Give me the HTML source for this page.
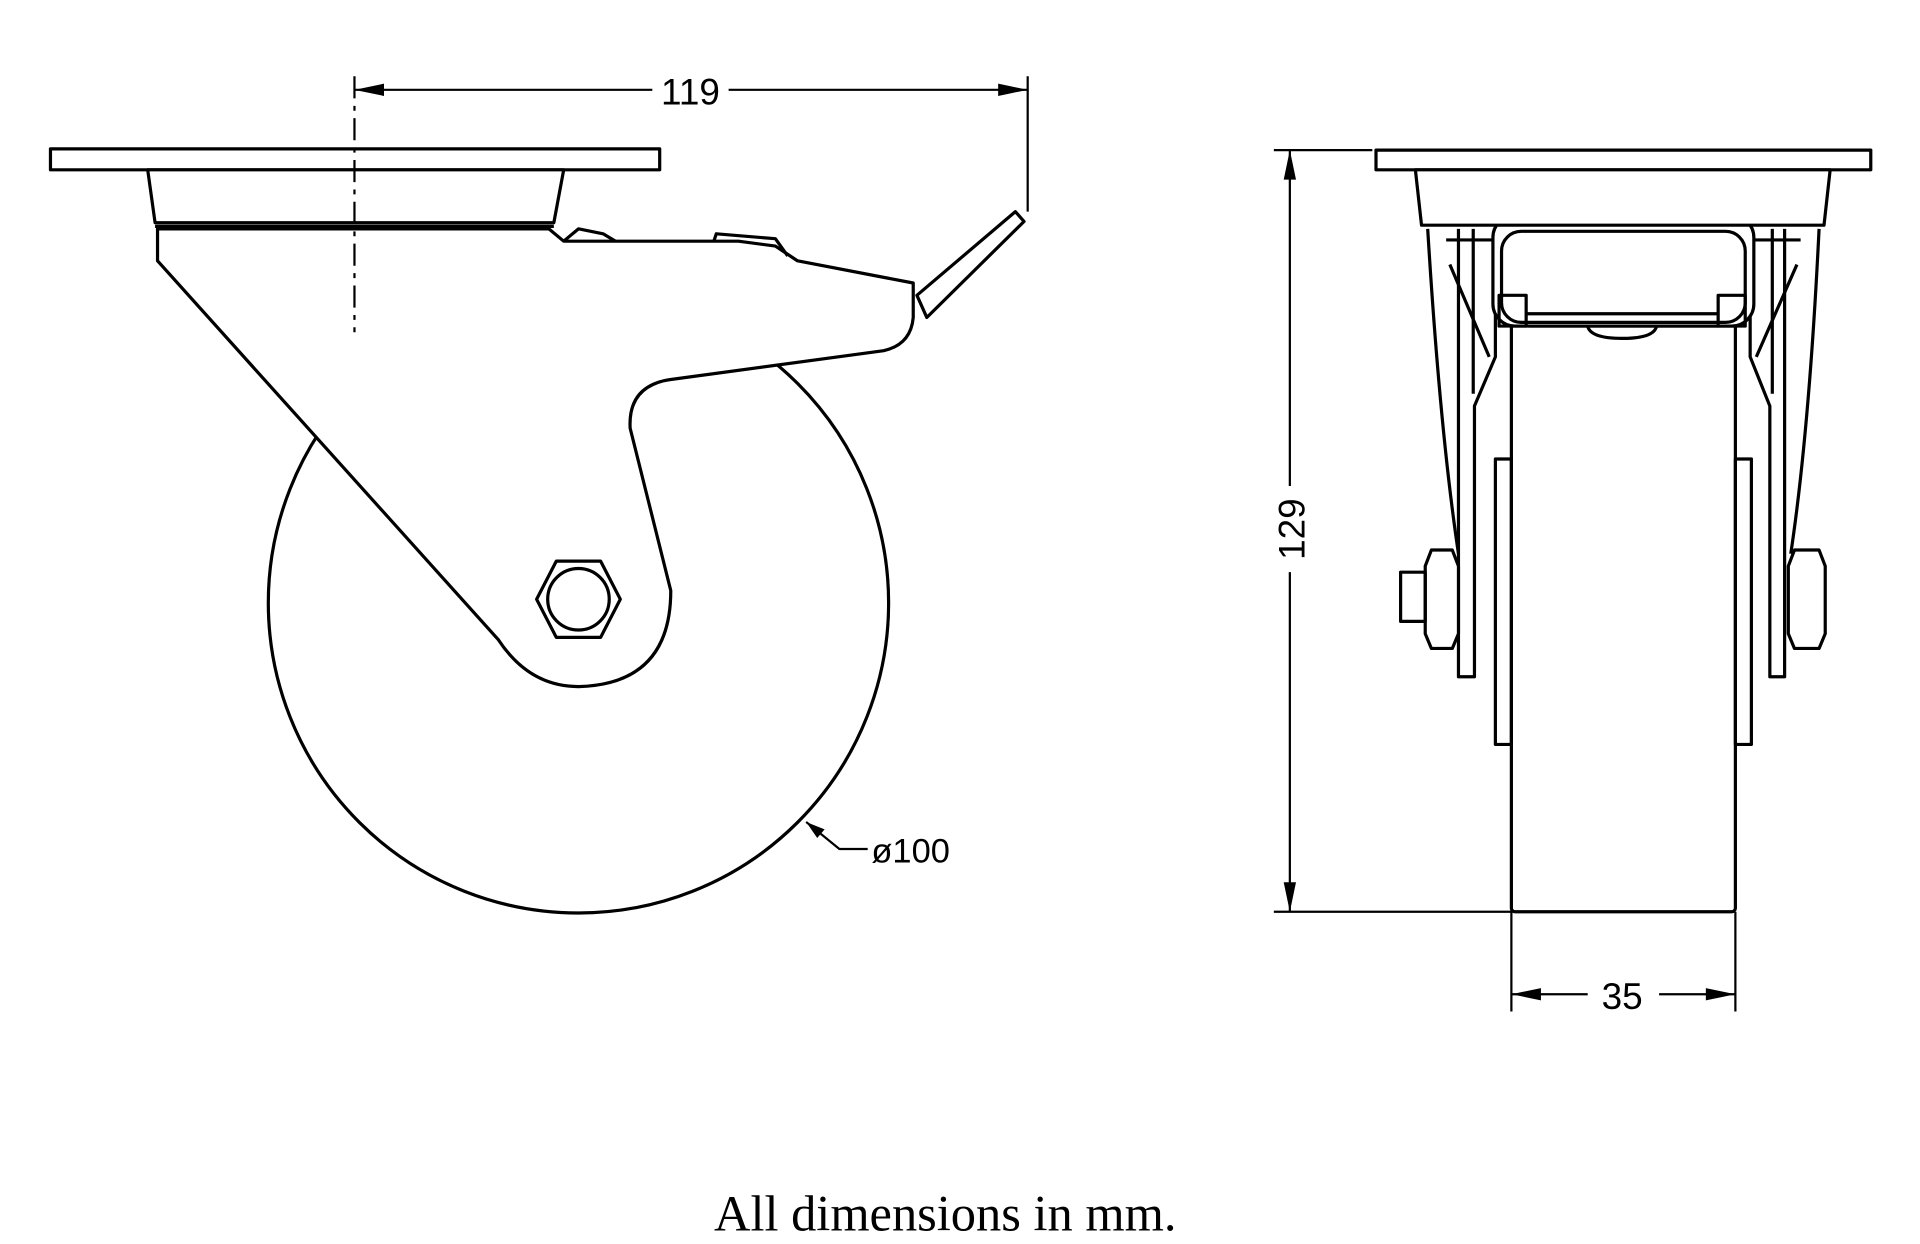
<!DOCTYPE html>
<html><head><style>html,body{margin:0;padding:0;background:#fff}svg{display:block}</style></head>
<body>
<svg width="1920" height="1244" viewBox="0 0 1560 1011" preserveAspectRatio="none" xmlns="http://www.w3.org/2000/svg">
<g fill="none" stroke="#000" stroke-width="2.6" stroke-linejoin="round">
<!-- LEFT VIEW -->
<circle cx="470" cy="490" r="252" fill="#fff"/>
<path d="M128,186 L128,212 L405,520 Q430,558 470,558 Q545,556 545,480 L512,348 Q510,312 548,308 L718,285 Q740,280 742,258 L742,230 L648,212 L630,200 L600,196 L458,196 L446,186 Z" fill="#fff"/>
<path d="M458,196 L470,186 L490,190 L500,196"/>
<path d="M580,196 L582,190 L630,194 L640,208"/>
<polygon points="745,240 825,172 832,180 753,258" fill="#fff"/>
<rect x="41" y="121" width="495" height="17" fill="#fff"/>
<path d="M120,138 L458,138 L450,181 L126,181 Z" fill="#fff"/>
<line x1="126" y1="184" x2="450" y2="184"/>
<polygon points="452,456 488,456 504,487 488,518 452,518 436,487" fill="#fff"/>
<circle cx="470" cy="487" r="25"/>
<line x1="288" y1="62" x2="288" y2="270" stroke-dasharray="18,6,4,6" stroke-width="1.8"/>
<!-- 119 dim -->
<line x1="288" y1="73" x2="530" y2="73" stroke-width="1.8"/>
<line x1="592" y1="73" x2="835" y2="73" stroke-width="1.8"/>
<line x1="835" y1="62" x2="835" y2="172" stroke-width="1.8"/>
<path d="M655,668 L682,690 L705,690" stroke-width="1.8"/>
<!-- RIGHT VIEW -->
<path d="M1160,186 Q1170,350 1185,450 M1478,186 Q1470,350 1455,450" />
<rect x="1228" y="262" width="182" height="479" rx="3" fill="#fff"/>
<rect x="1215" y="373" width="13" height="232"/>
<rect x="1410" y="373" width="13" height="232"/>
<path d="M1185,186 L1185,550 L1198,550 L1198,330 L1215,290 L1215,245"/>
<path d="M1450,186 L1450,550 L1438,550 L1438,330 L1422,290 L1422,245"/>
<path d="M1197,186 L1197,320 M1440,186 L1440,320"/>
<path d="M1175,195 L1213,195 M1425,195 L1463,195 M1178,215 L1210,290 M1460,215 L1427,290"/>
<rect x="1213" y="175" width="212" height="90" rx="18" fill="#fff"/>
<rect x="1220" y="188" width="198" height="74" rx="16"/>
<rect x="1218" y="240" width="22" height="25"/>
<rect x="1396" y="240" width="22" height="25"/>
<path d="M1240,255 L1396,255 M1242,265 L1396,265"/>
<path d="M1290,265 Q1292,275 1318,275 Q1344,275 1346,265"/>
<polygon points="1163,447 1180,447 1185,460 1185,515 1180,527 1163,527 1158,515 1158,460" fill="#fff"/>
<rect x="1138" y="465" width="20" height="40"/>
<polygon points="1458,447 1478,447 1483,460 1483,515 1478,527 1458,527 1453,515 1453,460" fill="#fff"/>
<rect x="1118" y="122" width="402" height="16" fill="#fff"/>
<path d="M1150,138 L1487,138 L1482,183 L1155,183 Z" fill="#fff"/>
<!-- 129 dim -->
<line x1="1048" y1="122" x2="1048" y2="395" stroke-width="1.8"/>
<line x1="1048" y1="465" x2="1048" y2="741" stroke-width="1.8"/>
<line x1="1035" y1="122" x2="1115" y2="122" stroke-width="1.8"/>
<line x1="1035" y1="741" x2="1228" y2="741" stroke-width="1.8"/>
<!-- 35 dim -->
<line x1="1228" y1="741" x2="1228" y2="822" stroke-width="1.8"/>
<line x1="1410" y1="741" x2="1410" y2="822" stroke-width="1.8"/>
<line x1="1228" y1="808" x2="1290" y2="808" stroke-width="1.8"/>
<line x1="1348" y1="808" x2="1410" y2="808" stroke-width="1.8"/>
</g>
<g fill="#000">
<polygon points="288,73 312,68 312,78"/>
<polygon points="835,73 811,68 811,78"/>
<polygon points="655,668 670,674 664,681"/>
<polygon points="1048,122 1043,146 1053,146"/>
<polygon points="1048,741 1043,717 1053,717"/>
<polygon points="1228,808 1252,803 1252,813"/>
<polygon points="1410,808 1386,803 1386,813"/>
</g>
<g font-family="'Liberation Sans', sans-serif" font-size="30" fill="#000">
<text x="561" y="85" text-anchor="middle">119</text>
<text x="708" y="701" font-size="28">ø100</text>
<text x="1318" y="820" text-anchor="middle">35</text>
<text transform="translate(1060,430) rotate(-90)" text-anchor="middle">129</text>
</g>
<text x="768" y="1000" text-anchor="middle" font-family="'Liberation Serif', serif" font-size="41" fill="#000">All dimensions in mm.</text>
</svg>
</body></html>
